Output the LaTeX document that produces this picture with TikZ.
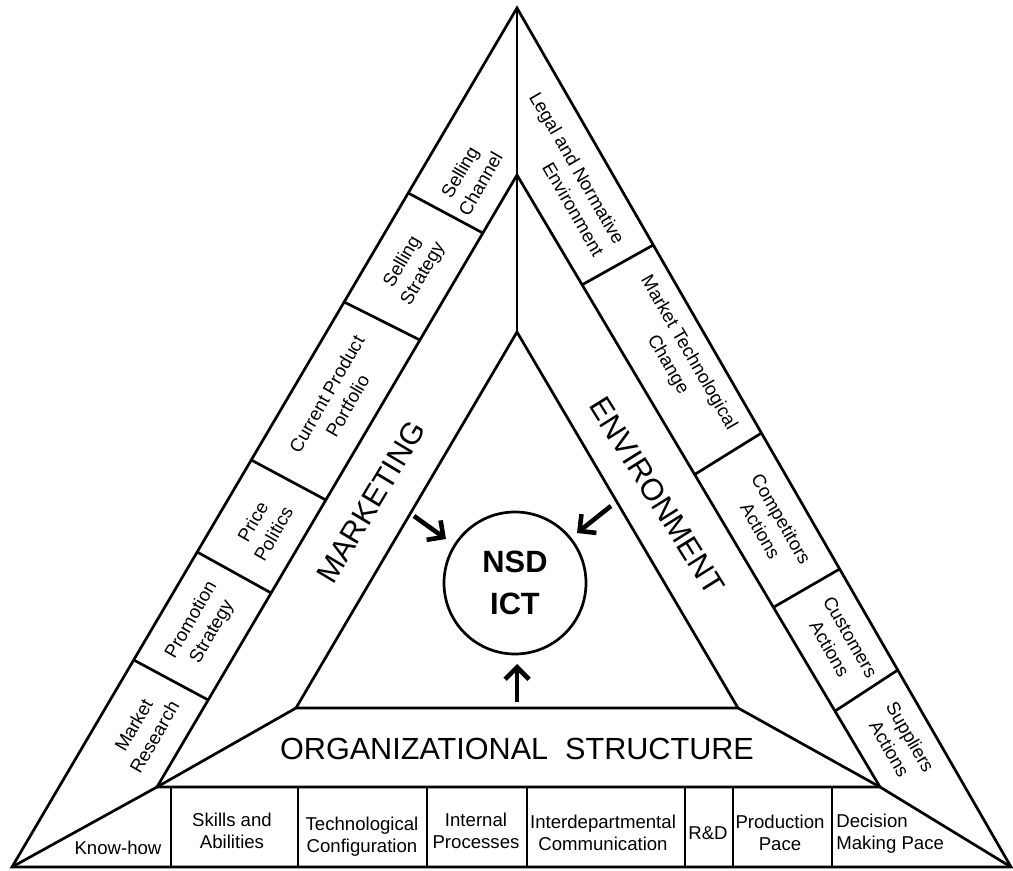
\documentclass[tikz,border=0pt]{standalone}
\usepackage{fontspec}
\setmainfont{Liberation Sans}
\usetikzlibrary{calc,arrows.meta}
\begin{document}
\begin{tikzpicture}[x=0.5pt,y=-0.5pt,
  edge/.style={line width=1.35pt, line join=miter},
  lbl/.style={font=\fontsize{9.3}{11}\selectfont, align=center, inner sep=0pt},
  rlbl/.style={font=\fontsize{9.3}{12}\selectfont, align=center, inner sep=0pt},
  big/.style={font=\fontsize{15.3}{18}\selectfont, inner sep=0pt},
  arr/.style={line width=2.3pt, -{Straight Barb[length=6pt,width=12pt]}},
]
\useasboundingbox (0,0) rectangle (1013,871);
% triangles
\coordinate (O1) at (12,867);
\coordinate (O2) at (1011,867);
\coordinate (O3) at (517,8);
\coordinate (M1) at (157,787);
\coordinate (M2) at (880,787);
\coordinate (M3) at (517,175);
\coordinate (I1) at (296,708);
\coordinate (I2) at (738,708);
\coordinate (I3) at (517,332);
\draw[edge] (O1) -- (O3) -- (O2) -- cycle;
\draw[edge] (M1) -- (M3) -- (M2) -- cycle;
\draw[edge] (I1) -- (I3) -- (I2) -- cycle;
\draw[edge] (O3) -- (I3);
\draw[edge] (O1) -- (M1) -- (I1);
\draw[edge] (O2) -- (M2) -- (I2);
% left band dividers
\coordinate (L1o) at ($(O1)!0.7846!(O3)$); \coordinate (L1m) at ($(M1)!0.9052!(M3)$);
\coordinate (L2o) at ($(O1)!0.6577!(O3)$); \coordinate (L2m) at ($(M1)!0.7304!(M3)$);
\coordinate (L3o) at ($(O1)!0.4738!(O3)$); \coordinate (L3m) at ($(M1)!0.4690!(M3)$);
\coordinate (L4o) at ($(O1)!0.3667!(O3)$); \coordinate (L4m) at ($(M1)!0.3170!(M3)$);
\coordinate (L5o) at ($(O1)!0.2410!(O3)$); \coordinate (L5m) at ($(M1)!0.1422!(M3)$);
\foreach \i in {1,...,5} {\draw[edge] (L\i o) -- (L\i m);}
% right band dividers
\coordinate (R1o) at ($(O2)!0.7241!(O3)$); \coordinate (R1m) at ($(M2)!0.8206!(M3)$);
\coordinate (R2o) at ($(O2)!0.5052!(O3)$); \coordinate (R2m) at ($(M2)!0.5106!(M3)$);
\coordinate (R3o) at ($(O2)!0.3469!(O3)$); \coordinate (R3m) at ($(M2)!0.2936!(M3)$);
\coordinate (R4o) at ($(O2)!0.2293!(O3)$); \coordinate (R4m) at ($(M2)!0.1240!(M3)$);
\foreach \i in {1,...,4} {\draw[edge] (R\i o) -- (R\i m);}
% bottom band dividers
\foreach \x [count=\i] in {171,298,427,527,685,733,832} {
  \coordinate (B\i) at (\x,787);
  \draw[edge] (B\i) -- (B\i |- O1);
}
% left band labels
\node[rlbl, rotate=60] (sc) at (470,178) {Selling\\Channel};
\node[rlbl, rotate=60] (ss) at (413,268) {Selling\\Strategy};
\node[rlbl, rotate=60] (cpp) at (337,400) {Current Product\\Portfolio};
\node[rlbl, rotate=60] (pp) at (263,528) {Price\\Politics};
\node[rlbl, rotate=60] (ps) at (202,626) {Promotion\\Strategy};
\node[rlbl, rotate=60] (mr) at (144,731) {Market\\Research};
% right band labels
\node[rlbl, rotate=-60, align=right] (lne) at (567,174) {Legal and Normative\\Environment};
\node[rlbl, rotate=-60] (mtc) at (678,359) {Market Technological\\Change};
\node[rlbl, rotate=-60] (ca) at (771,525) {Competitors\\Actions};
\node[rlbl, rotate=-60] (cua) at (840,643) {Customers\\Actions};
\node[rlbl, rotate=-60] (spa) at (900,743) {Suppliers\\Actions};
% big labels
\node[big, rotate=59] (mkt) at (371,502) {MARKETING};
\node[big, rotate=-58] (env) at (657,496) {ENVIRONMENT};
\node[big] (org) at (517,749) {ORGANIZATIONAL\ \ STRUCTURE};
% bottom labels
\node[lbl] (kh) at (118,848) {Know-how};
\node[lbl] (skl) at (232,831) {Skills and\\Abilities};
\node[lbl] (tc) at (362,837) {Technological\\Configuration};
\node[lbl] (ip) at (476,831) {Internal\\Processes};
\node[lbl] (ic) at (603,833) {Interdepartmental\\Communication};
\node[lbl] (rd) at (708,833) {R\&D};
\node[lbl] (pr) at (780,833) {Production\\Pace};
\node[lbl, align=left, anchor=west] (dm) at (836,834) {Decision\\Making Pace};
% centre
\node[draw, circle, line width=1.35pt, minimum size=71pt, inner sep=0pt,
  font=\bfseries\fontsize{15.4}{21}\selectfont, align=center] (ict) at (515,583) {NSD\\ICT};
% arrows
\coordinate (a1s) at (414,516); \coordinate (a1e) at (446,539);
\coordinate (a2s) at (611,506); \coordinate (a2e) at (577,533);
\coordinate (a3s) at (517,702); \coordinate (a3e) at (517,664);
\draw[arr] (a1s) -- (a1e);
\draw[arr] (a2s) -- (a2e);
\draw[arr] (a3s) -- (a3e);
\end{tikzpicture}
\end{document}
